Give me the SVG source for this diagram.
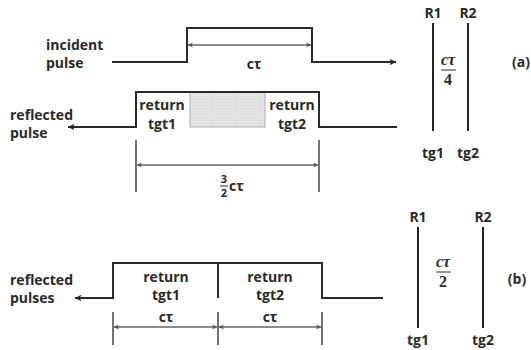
<svg xmlns="http://www.w3.org/2000/svg" width="531" height="350" viewBox="0 0 531 350">
<defs>
<marker id="ah" viewBox="0 0 10 10" refX="9" refY="5" markerWidth="8" markerHeight="8" markerUnits="userSpaceOnUse" orient="auto-start-reverse">
<path d="M1,1 L9,5 L1,9 L3,5 Z" fill="#222"/>
</marker>
<marker id="dh" viewBox="0 0 10 10" refX="9" refY="5" markerWidth="6" markerHeight="6" markerUnits="userSpaceOnUse" orient="auto-start-reverse">
<path d="M1,1 L9,5 L1,9 L3,5 Z" fill="#555"/>
</marker>
<pattern id="dots" width="3" height="3" patternUnits="userSpaceOnUse">
<rect width="3" height="3" fill="#e4e4e4"/>
<rect width="1" height="1" fill="#d2d2d2"/>
</pattern>
</defs>
<style>
.sig{fill:none;stroke:#2a2a2a;stroke-width:2}
.dim{fill:none;stroke:#666;stroke-width:1.3}
.tick{fill:none;stroke:#444;stroke-width:1.5}
.rl{fill:none;stroke:#222;stroke-width:2}
text{font-family:"Open Sans","Liberation Sans",sans-serif;font-weight:bold;font-size:14px;fill:#2a2a2a}
.c{text-anchor:middle}
.frac{font-family:"Liberation Serif",serif;font-style:italic;font-size:16px}
.num{font-family:"Liberation Serif",serif;font-size:16px}
.sm{font-size:11px}
</style>

<g id="incident-label"><text x="46" y="50">incident</text><text x="46" y="68">pulse</text></g>
<g id="reflected-label-a"><text x="10" y="120">reflected</text><text x="10" y="138">pulse</text></g>
<g id="return-a1"><text class="c" x="162" y="110">return</text><text class="c" x="162" y="129">tgt1</text></g>
<g id="overlap"><rect x="190" y="92" width="75" height="35" fill="url(#dots)" stroke="#a9b0bb" stroke-width="1"/></g>
<g id="return-a2"><text class="c" x="292" y="110">return</text><text class="c" x="292" y="129">tgt2</text></g>
<g id="ct-a"><text class="c" x="254" y="69">cτ</text></g>
<g id="frac-32">
<text class="c sm" x="224" y="183">3</text>
<line x1="220" y1="186" x2="228" y2="186" stroke="#2a2a2a" stroke-width="1"/>
<text class="c sm" x="224" y="197">2</text>
<text x="229" y="191">cτ</text>
</g>

<g id="R-a">
<text class="c" x="433" y="18">R1</text>
<text class="c" x="468" y="18">R2</text>
<text class="c" x="433" y="158">tg1</text>
<text class="c" x="468" y="158">tg2</text>
<text class="c frac" x="448" y="65">cτ</text>
<line x1="441" y1="70" x2="456" y2="70" stroke="#2a2a2a" stroke-width="1"/>
<text class="c num" x="448" y="85" font-weight="bold">4</text>
<text class="c" x="521" y="67" font-size="12">(a)</text>
</g>

<g id="reflected-label-b"><text x="10" y="285">reflected</text><text x="10" y="303">pulses</text></g>
<g id="return-b1"><text class="c" x="166" y="282">return</text><text class="c" x="166" y="300">tgt1</text></g>
<g id="return-b2"><text class="c" x="270" y="282">return</text><text class="c" x="270" y="300">tgt2</text></g>
<g id="ct-b"><text class="c" x="166" y="322">cτ</text><text class="c" x="270" y="322">cτ</text></g>

<g id="R-b">
<text class="c" x="418" y="222">R1</text>
<text class="c" x="483" y="222">R2</text>
<text class="c" x="418" y="345">tg1</text>
<text class="c" x="483" y="345">tg2</text>
<text class="c frac" x="443" y="267">cτ</text>
<line x1="436" y1="272" x2="451" y2="272" stroke="#2a2a2a" stroke-width="1"/>
<text class="c num" x="443" y="287" font-weight="bold">2</text>
<text class="c" x="517" y="284" font-size="12">(b)</text>
</g>

<g id="connectors">
<path class="sig" d="M112,62 H187 V28 H312 V62 H396" marker-end="url(#ah)"/>
<path class="sig" d="M397,127 H319 V92 H136 V127 H68" marker-end="url(#ah)"/>
<line class="dim" x1="188" y1="45" x2="311" y2="45" marker-start="url(#dh)" marker-end="url(#dh)"/>
<line class="tick" x1="136" y1="140" x2="136" y2="192"/>
<line class="tick" x1="319" y1="140" x2="319" y2="192"/>
<line class="dim" x1="137" y1="165" x2="318" y2="165" marker-start="url(#dh)" marker-end="url(#dh)"/>
<line class="rl" x1="433" y1="23" x2="433" y2="131"/>
<line class="rl" x1="468" y1="23" x2="468" y2="131"/>

<path class="sig" d="M383,298 H322 V263 H113 V298 H75" marker-end="url(#ah)"/>
<line class="sig" x1="218" y1="263" x2="218" y2="298"/>
<line class="tick" x1="113" y1="312" x2="113" y2="345"/>
<line class="tick" x1="218" y1="312" x2="218" y2="345"/>
<line class="tick" x1="322" y1="312" x2="322" y2="345"/>
<line class="dim" x1="114" y1="327" x2="217" y2="327" marker-start="url(#dh)" marker-end="url(#dh)"/>
<line class="dim" x1="219" y1="327" x2="321" y2="327" marker-start="url(#dh)" marker-end="url(#dh)"/>
<line class="rl" x1="418" y1="227" x2="418" y2="328"/>
<line class="rl" x1="483" y1="227" x2="483" y2="328"/>
</g>
</svg>
